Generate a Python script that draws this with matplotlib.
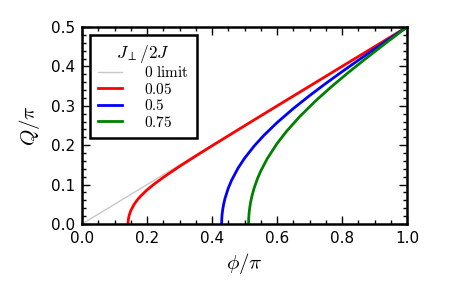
import matplotlib
matplotlib.use("Agg")
import matplotlib.pyplot as plt
from matplotlib.ticker import MultipleLocator

plt.rcParams['mathtext.fontset'] = 'cm'
plt.rcParams['font.family'] = ['DejaVu Sans']

# Data
gray_phi = [0.0, 1.0]
gray_Q = [0.0, 0.5]

red_phi = [0.1417, 0.1419, 0.1425, 0.143, 0.145, 0.15, 0.16, 0.17, 0.18, 0.20, 0.22,
           0.25, 0.30, 0.35, 0.40, 0.50, 0.60, 0.70, 0.80, 0.90, 1.0]
red_Q = [0.0, 0.0046, 0.0103, 0.0132, 0.0213, 0.0336, 0.0494, 0.0610, 0.0705, 0.0864, 0.1000,
         0.1183, 0.1462, 0.1726, 0.1984, 0.2492, 0.2996, 0.3497, 0.3999, 0.4499, 0.5]

blue_phi = [0.4296, 0.4300, 0.4310, 0.433, 0.436, 0.44, 0.45, 0.46, 0.48, 0.50, 0.53,
            0.56, 0.60, 0.65, 0.70, 0.75, 0.80, 0.85, 0.90, 0.95, 1.0]
blue_Q = [0.0, 0.0122, 0.0236, 0.0370, 0.0509, 0.0649, 0.0907, 0.1105, 0.1416, 0.1667, 0.1982,
          0.2253, 0.2572, 0.2929, 0.3257, 0.3567, 0.3865, 0.4155, 0.4439, 0.4720, 0.5]

green_phi = [0.5126, 0.513, 0.514, 0.516, 0.519, 0.523, 0.53, 0.54, 0.55, 0.57, 0.60,
             0.63, 0.67, 0.72, 0.77, 0.82, 0.87, 0.92, 0.96, 1.0]
green_Q = [0.0, 0.0145, 0.0265, 0.0409, 0.0560, 0.0713, 0.0921, 0.1153, 0.1344, 0.1659, 0.2040,
           0.2359, 0.2728, 0.3135, 0.3503, 0.3848, 0.4178, 0.4498, 0.4750, 0.5]

labels = [r'$\mathrm{0\ limit}$', r'$0.05$', r'$0.5$', r'$0.75$']
legend_title = r'$J_{\perp}/2J$'

fig = plt.figure(figsize=(4.53, 2.81), dpi=100)
ax = fig.add_axes([82/453, 1-224/281, (407-82)/453, (224-27)/281])

ax.plot(gray_phi, gray_Q, color='#c8c8c8', lw=1.0, label=labels[0])
ax.plot(red_phi, red_Q, color='red', lw=2.0, label=labels[1])
ax.plot(blue_phi, blue_Q, color='blue', lw=2.0, label=labels[2])
ax.plot(green_phi, green_Q, color='green', lw=2.0, label=labels[3])

ax.set_xlim(0, 1)
ax.set_ylim(0, 0.5)
ax.xaxis.set_major_locator(MultipleLocator(0.2))
ax.xaxis.set_minor_locator(MultipleLocator(0.05))
ax.yaxis.set_major_locator(MultipleLocator(0.1))
ax.yaxis.set_minor_locator(MultipleLocator(0.02))
ax.tick_params(which='both', direction='in', top=True, right=True, labelsize=11,
               width=1, colors='black', pad=5)
ax.tick_params(which='major', length=6)
ax.tick_params(which='minor', length=3)
for s in ax.spines.values():
    s.set_linewidth(1.8)

ax.set_xlabel(r'$\phi/\pi$', fontsize=15, labelpad=3.5)
ax.set_ylabel(r'$Q/\pi$', fontsize=15, labelpad=6)

leg = ax.legend(loc='upper left', title=legend_title, fontsize=11, title_fontsize=12.5,
                fancybox=False, framealpha=1, edgecolor='black',
                handlelength=1.6, handletextpad=1.4, borderpad=0.55, labelspacing=0.1)
leg.get_frame().set_linewidth(1.8)
leg._legend_box.sep = 0.0

fig.savefig('out.png', dpi=100)
